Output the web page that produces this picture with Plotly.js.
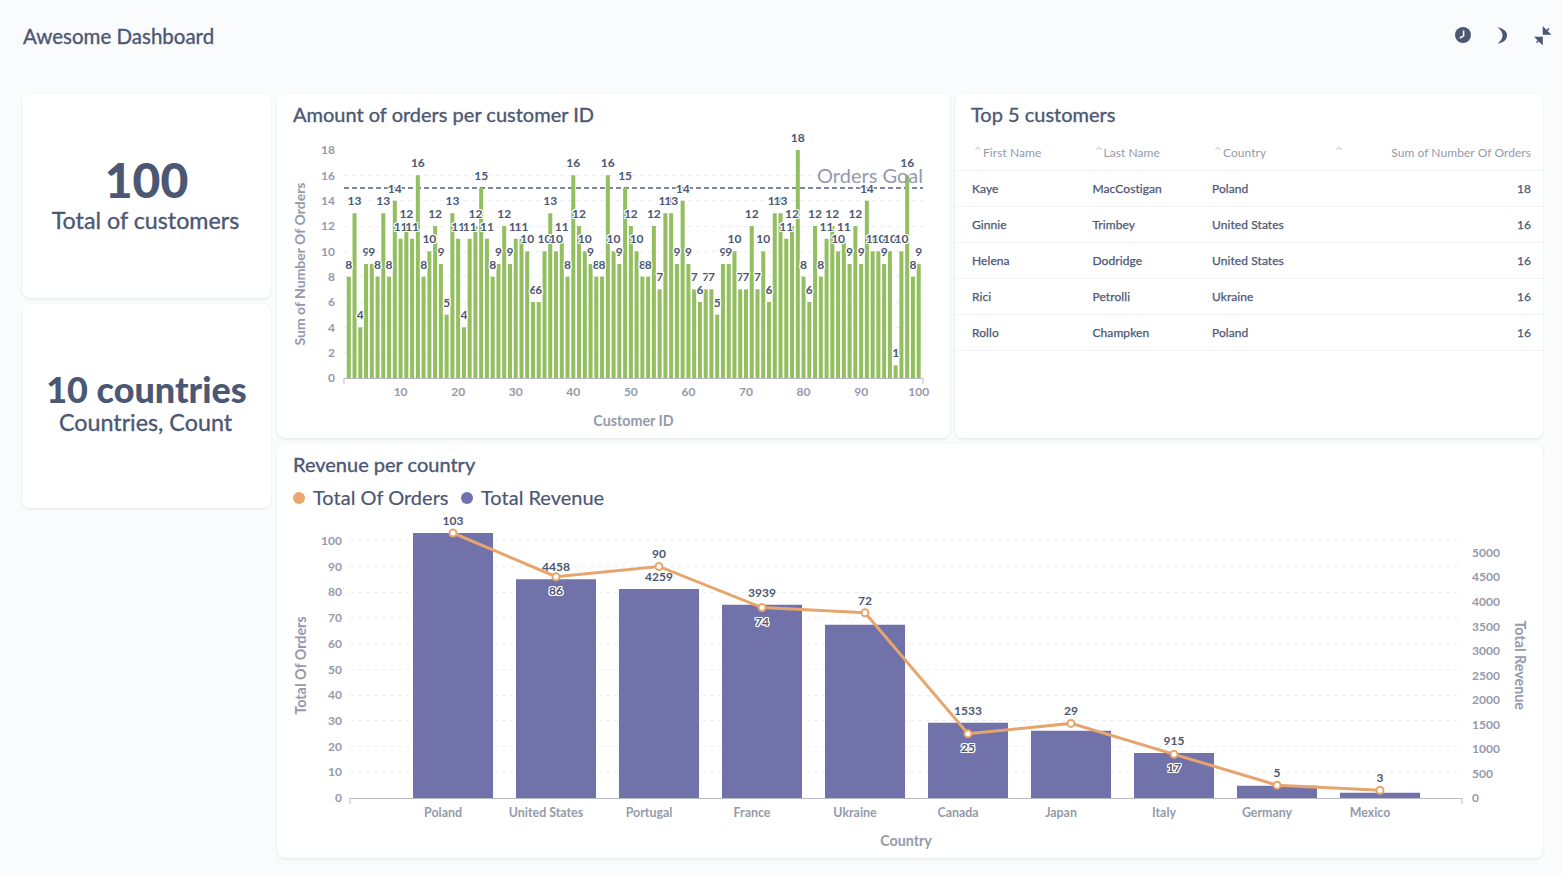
<!DOCTYPE html>
<html>
<head>
<meta charset="utf-8">
<script src="https://cdn.plot.ly/plotly-3.0.1.min.js"></script>
<style>
html,body{margin:0;padding:0;width:1562px;height:876px;overflow:hidden;background:#F9FBFD;font-family:Lato,sans-serif;color:#4C5773}
.card{position:absolute;background:#fff;border-radius:8px;box-shadow:0 1px 3px rgba(0,0,0,.09)}
.abs{position:absolute;white-space:nowrap}
.ttl{font-size:20px;line-height:24px;-webkit-text-stroke:.35px #4C5773}
.center{left:0;width:100%;text-align:center}
.plot{position:absolute;left:0;top:0}
.hdr{font-size:12px;color:#949AAB;line-height:14px;letter-spacing:.06px}
.caret{font-size:14px;color:#D5D7DF;line-height:14px}
.cell{font-size:12px;line-height:14px;-webkit-text-stroke:.25px #4C5773;letter-spacing:.08px}
.rule{position:absolute;left:0;right:0;height:1px;background:#F2F3F5}
.dot{position:absolute;width:12px;height:12px;border-radius:50%}
.leg{font-size:20px;line-height:24px;-webkit-text-stroke:.2px #4C5773}
.sub{font-size:23.3px;line-height:30px;-webkit-text-stroke:.35px #4C5773}
</style>
</head>
<body>
<div class="abs ttl" style="left:23px;top:24px;font-size:20.5px">Awesome Dashboard</div>
<svg class="abs" style="left:1450px;top:22px" width="105" height="26" viewBox="0 0 105 26">
  <circle cx="13" cy="13" r="8" fill="#4C5773"/><path d="M13.6 8.5V13.8L9.8 16" stroke="#fff" stroke-width="1.5" fill="none"/>
  <path d="M47 5C54 6.5 57.5 10 57 14C56.5 18.5 52.5 21 47.5 21.5C51.5 18.5 53 15.5 52.5 12.5C52 9.5 50 7 47 5Z" fill="#4C5773"/>
  <path d="M99 6.5L95.6 9.9M93.5 6V12H99.5L93.5 6Z" stroke="#4C5773" stroke-width="1.6" fill="#4C5773"/>
  <path d="M86.5 20.5L90 17M92 21.5V15.5H86L92 21.5Z" stroke="#4C5773" stroke-width="1.6" fill="#4C5773"/>
</svg>

<div class="card" style="left:22px;top:94px;width:249px;height:204px">
  <div class="abs center" style="top:58px;font-size:48px;font-weight:900;line-height:56px">100</div>
  <div class="abs center sub" style="top:111px;left:-1px">Total of customers</div>
</div>
<div class="card" style="left:22px;top:304px;width:249px;height:204px">
  <div class="abs center" style="top:63px;font-size:36px;font-weight:900;line-height:44px">10 countries</div>
  <div class="abs center sub" style="top:103px;left:-1px">Countries, Count</div>
</div>

<div class="card" id="cardA" style="left:277px;top:94px;width:673px;height:344px">
  <div id="chartA" class="plot"></div>
  <div class="abs ttl" style="left:16px;top:8px">Amount of orders per customer ID</div>
</div>

<div class="card" id="cardT" style="left:955px;top:94px;width:588px;height:344px">
  <div class="abs ttl" style="left:16px;top:8px">Top 5 customers</div>
  <div id="tbl"></div>
</div>

<div class="card" id="cardB" style="left:277px;top:444px;width:1266px;height:414px">
  <div id="chartB" class="plot"></div>
  <div class="abs ttl" style="left:16px;top:8px">Revenue per country</div>
  <div class="dot" style="left:16px;top:48px;background:#E9A66F"></div>
  <div class="abs leg" style="left:36px;top:41px">Total Of Orders</div>
  <div class="dot" style="left:184px;top:48px;background:#7172AD"></div>
  <div class="abs leg" style="left:204px;top:41px">Total Revenue</div>
</div>

<script>
// ---- chart A data ----
const customerIds = [];
for (let i = 1; i <= 100; i++) customerIds.push(i);
const ordersPerCustomer = [
  8,13,4,9,9,8,13,8,14,11,
  12,11,16,8,10,12,9,5,13,11,
  4,11,12,15,11,8,9,12,9,11,
  11,10,6,6,10,13,10,11,8,16,
  12,10,9,8,8,16,10,9,15,12,
  10,8,8,12,7,13,13,9,14,9,
  7,6,7,7,5,9,9,10,7,7,
  12,7,10,6,13,13,11,12,18,8,
  6,12,8,11,12,10,11,9,12,9,
  14,10,10,9,10,1,10,16,8,9
];
const ordersGoal = 15;
const goalLabel = 'Orders Goal';

// ---- chart B data ----
const countries = ['Poland','United States','Portugal','France','Ukraine','Canada','Japan','Italy','Germany','Mexico'];
const totalOrders = [103,86,90,74,72,25,29,17,5,3];
const totalRevenue = [5403,4458,4259,3939,3530,1533,1370,915,250,108];
const revenueLabels = ['','4458','4259','3939','','1533','','915','',''];
const orderLabelPositions = ['top center','bottom center','top center','bottom center','top center','bottom center','top center','bottom center','top center','top center'];

// ---- table data ----
const tableHeaders = ['First Name','Last Name','Country','Sum of Number Of Orders'];
const firstNames = ['Kaye','Ginnie','Helena','Rici','Rollo'];
const lastNames = ['MacCostigan','Trimbey','Dodridge','Petrolli','Champken'];
const customerCountries = ['Poland','United States','United States','Ukraine','Poland'];
const customerOrders = [18,16,16,16,16];

const INK = '#4C5773', MUTED = '#949AAB', GRID = '#EEEFF2', AXIS = '#B8BBC7';
const HALO = '1px 0 0 #fff,-1px 0 0 #fff,0 1px 0 #fff,0 -1px 0 #fff,1px 1px 0 #fff,-1px -1px 0 #fff,1px -1px 0 #fff,-1px 1px 0 #fff';
const FONT = 'Lato, sans-serif';
const tickFont = {family: FONT, size: 12, color: MUTED, weight: 700};
const titleFont = {family: FONT, size: 14.3, color: MUTED, weight: 700};
const labelFont = {family: FONT, size: 12, color: INK, weight: 700, shadow: HALO};
const ghostMarker = {size: 6.4, color: 'rgba(0,0,0,0)', line: {width: 0}};
// labels under the line sit a little further from their point than those above it
const orderGhostMarker = {
  size: orderLabelPositions.map(function (p) { return p.indexOf('bottom') === 0 ? 12.8 : 6.4; }),
  color: 'rgba(0,0,0,0)', line: {width: 0}
};

function endTick(x, h) {
  return {type: 'line', xref: 'paper', yref: 'paper', x0: x, x1: x, y0: 0, y1: -6 / h,
          line: {color: AXIS, width: 1}};
}

// ---- chart A ----
const hA = 344 - 56 - 59.7;
Plotly.newPlot('chartA', [
  {type: 'bar', x: customerIds, y: ordersPerCustomer, marker: {color: '#93BF60'},
   hoverinfo: 'skip', showlegend: false},
  {type: 'scatter', mode: 'markers+text', x: customerIds, y: ordersPerCustomer, marker: ghostMarker,
   text: ordersPerCustomer.map(String), textposition: 'top center', textfont: labelFont,
   cliponaxis: false, hoverinfo: 'skip', showlegend: false}
], {
  width: 673, height: 344,
  margin: {l: 66.5, r: 27, t: 56, b: 59.7, pad: 0},
  paper_bgcolor: 'rgba(0,0,0,0)', plot_bgcolor: 'rgba(0,0,0,0)',
  bargap: 0.3,
  showlegend: false,
  xaxis: {range: [0.17, 100.75], tickmode: 'array', tickvals: [10,20,30,40,50,60,70,80,90,100],
          showgrid: false, zeroline: false, showline: true, linecolor: AXIS, linewidth: 1,
          ticks: '', tickfont: tickFont, ticklabelstandoff: 3,
          title: {text: 'Customer ID', font: titleFont, standoff: 17}},
  yaxis: {range: [0, 18], tickmode: 'array', tickvals: [0,2,4,6,8,10,12,14,16,18],
          showgrid: true, gridcolor: GRID, griddash: '4px,4px', gridwidth: 1, zeroline: false,
          showline: false, ticks: '', tickfont: tickFont, ticklabelstandoff: 8,
          title: {text: 'Sum of Number Of Orders', font: {family: FONT, size: 14, color: MUTED, weight: 700}, standoff: 12}},
  shapes: [
    {type: 'line', xref: 'paper', yref: 'y', x0: 0, x1: 1, y0: ordersGoal, y1: ordersGoal, layer: 'below',
     line: {color: '#7F869F', width: 1.8, dash: '5px,3px'}},
    endTick(0, hA), endTick(1, hA)
  ],
  annotations: [
    {xref: 'paper', yref: 'y', x: 1, y: ordersGoal, xanchor: 'right', yanchor: 'bottom', xshift: 2, yshift: -1,
     text: goalLabel, showarrow: false, font: {family: FONT, size: 20, color: MUTED}}
  ]
}, {displayModeBar: false, staticPlot: true});

// ---- chart B ----
const hB = 414 - 89 - 59.7;
const wB = 1266 - 73 - 81;
Plotly.newPlot('chartB', [
  {type: 'bar', x: countries, y: totalRevenue, yaxis: 'y', name: 'Total Revenue',
   marker: {color: '#7172A9'}, hoverinfo: 'skip', showlegend: false},
  {type: 'scatter', mode: 'lines+markers', x: countries, y: totalOrders, yaxis: 'y2', name: 'Total Of Orders',
   line: {color: '#E7A56E', width: 3},
   marker: {size: 7, color: '#fff', line: {color: '#E7A56E', width: 2}},
   cliponaxis: false, hoverinfo: 'skip', showlegend: false},
  {type: 'scatter', mode: 'markers+text', x: countries, y: totalRevenue, yaxis: 'y', marker: ghostMarker,
   text: revenueLabels, textposition: 'top center', textfont: labelFont,
   cliponaxis: false, hoverinfo: 'skip', showlegend: false},
  {type: 'scatter', mode: 'markers+text', x: countries, y: totalOrders, yaxis: 'y2', marker: orderGhostMarker,
   text: totalOrders.map(String), textposition: orderLabelPositions, textfont: labelFont,
   cliponaxis: false, hoverinfo: 'skip', showlegend: false}
], {
  width: 1266, height: 414,
  margin: {l: 73, r: 81, t: 89, b: 59.7, pad: 0},
  paper_bgcolor: 'rgba(0,0,0,0)', plot_bgcolor: 'rgba(0,0,0,0)',
  bargap: 0.223,
  showlegend: false,
  xaxis: {type: 'category', categoryorder: 'array', categoryarray: countries, range: [-1, 9.796],
          showgrid: false, zeroline: false, showline: true, linecolor: AXIS, linewidth: 1,
          ticks: '', tickfont: {family: FONT, size: 12.4, color: MUTED, weight: 700},
          ticklabelstandoff: 3, ticklabelshift: -10,
          title: {text: 'Country', font: titleFont, standoff: 17}},
  yaxis: {side: 'right', range: [0, 5403],
          tickmode: 'array', tickvals: [0,500,1000,1500,2000,2500,3000,3500,4000,4500,5000],
          showgrid: false, zeroline: false, showline: false, ticks: '', tickfont: tickFont,
          ticklabelstandoff: 9},
  yaxis2: {overlaying: 'y', side: 'left', range: [0, 103], tickmode: 'array', tickvals: [0,10,20,30,40,50,60,70,80,90,100],
          showgrid: true, gridcolor: GRID, griddash: '4px,4px', gridwidth: 1, zeroline: false,
          showline: false, ticks: '', tickfont: tickFont, ticklabelstandoff: 7,
          title: {text: 'Total Of Orders', font: titleFont, standoff: 11}},
  annotations: [
    {xref: 'paper', yref: 'paper', x: (1243 - 73) / wB, y: 0.5, xanchor: 'center', yanchor: 'middle',
     textangle: 90, text: 'Total Revenue', showarrow: false, font: titleFont}
  ],
  shapes: [endTick(0, hB), endTick(1, hB)]
}, {displayModeBar: false, staticPlot: true});

// ---- table ----
(function () {
  const cols = [17, 137.5, 257];
  const host = document.getElementById('tbl');
  let html = '';
  cols.concat([378]).forEach(function (x) {
    html += '<div class="abs caret" style="left:' + x + 'px;top:51px">&#x2303;</div>';
  });
  cols.forEach(function (x, i) {
    html += '<div class="abs hdr" style="left:' + (x + 11) + 'px;top:52px">' + tableHeaders[i] + '</div>';
  });
  html += '<div class="abs hdr" style="right:12px;top:52px">' + tableHeaders[3] + '</div>';
  html += '<div class="rule" style="top:76px"></div>';
  firstNames.forEach(function (n, r) {
    const top = 88 + r * 36;
    html += '<div class="abs cell" style="left:' + cols[0] + 'px;top:' + top + 'px">' + n + '</div>';
    html += '<div class="abs cell" style="left:' + cols[1] + 'px;top:' + top + 'px">' + lastNames[r] + '</div>';
    html += '<div class="abs cell" style="left:' + cols[2] + 'px;top:' + top + 'px">' + customerCountries[r] + '</div>';
    html += '<div class="abs cell" style="right:12px;top:' + top + 'px">' + customerOrders[r] + '</div>';
    html += '<div class="rule" style="top:' + (112 + r * 36) + 'px"></div>';
  });
  host.innerHTML = html;
})();
</script>
</body>
</html>
